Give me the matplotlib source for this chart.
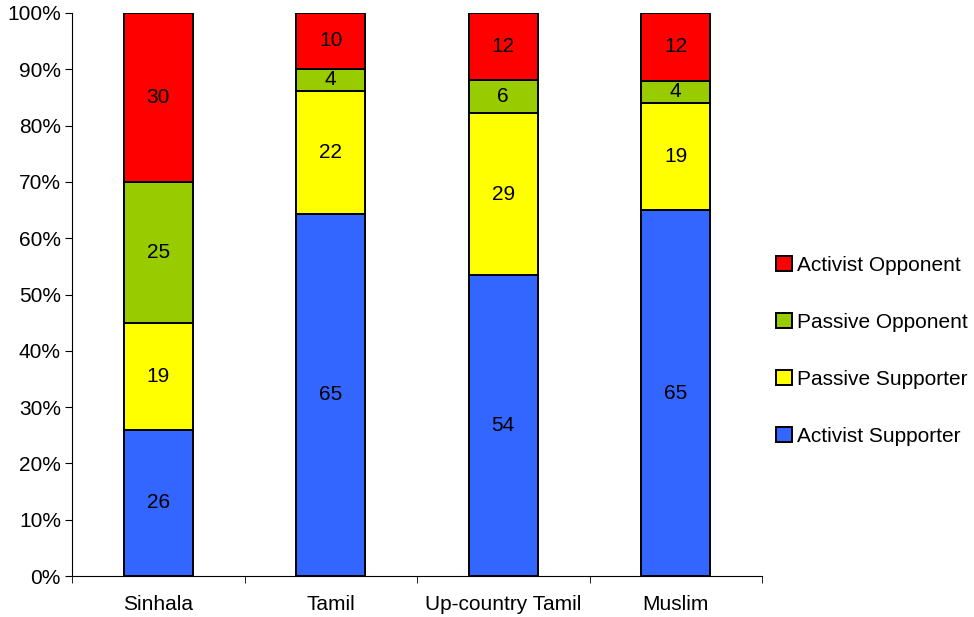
import matplotlib.pyplot as plt
import numpy as np

plt.rcParams['font.family'] = ['Liberation Sans', 'DejaVu Sans']

groups = ['Sinhala', 'Tamil', 'Up-country Tamil', 'Muslim']
series = ['Activist Supporter', 'Passive Supporter', 'Passive Opponent', 'Activist Opponent']
activist_supporter = [26, 65, 54, 65]
passive_supporter = [19, 22, 29, 19]
passive_opponent = [25, 4, 6, 4]
activist_opponent = [30, 10, 12, 12]
colors = ['#3366FF', '#FFFF00', '#99CC00', '#FF0000']

values = np.array([activist_supporter, passive_supporter, passive_opponent, activist_opponent], dtype=float)
totals = values.sum(axis=0)
shares = values / totals * 100

fig = plt.figure(figsize=(9.74, 6.17), dpi=100)
ax = fig.add_axes([72 / 974, 41 / 617, 690 / 974, 563 / 617])

x = np.arange(len(groups))
bottom = np.zeros(len(groups))
handles = []
for i, name in enumerate(series):
    bars = ax.bar(x, shares[i], 0.4, bottom=bottom, color=colors[i],
                  edgecolor='black', linewidth=1.4, label=name, zorder=2)
    handles.append(bars)
    for j in range(len(groups)):
        ax.text(x[j], bottom[j] + shares[i][j] / 2, '%d' % values[i][j],
                ha='center', va='center', fontsize=15, color='black', zorder=3)
    bottom += shares[i]

ax.set_xlim(-0.5, len(groups) - 0.5)
ax.set_ylim(0, 100)
ax.set_yticks(np.arange(0, 101, 10))
ax.set_yticklabels(['%d%%' % v for v in range(0, 101, 10)], fontsize=15)
ax.set_xticks(x)
ax.set_xticklabels(groups, fontsize=15)
ax.set_xticks(np.arange(-0.5, len(groups), 1), minor=True)
ax.tick_params(axis='x', which='major', length=0, pad=14)
ax.tick_params(axis='x', which='minor', length=5, direction='out')
ax.tick_params(axis='y', length=5, direction='out', pad=3)

for side in ['top', 'right']:
    ax.spines[side].set_visible(False)
ax.spines['left'].set_linewidth(0.8)
ax.spines['bottom'].set_linewidth(0.8)

leg = fig.legend(handles[::-1], series[::-1], loc='center left',
                 bbox_to_anchor=(768 / 974, 1 - 351 / 617), frameon=False,
                 fontsize=15, labelspacing=1.82, handlelength=0.75,
                 handleheight=0.75, handletextpad=0.25, borderaxespad=0)

fig.savefig('out.png', dpi=100)
